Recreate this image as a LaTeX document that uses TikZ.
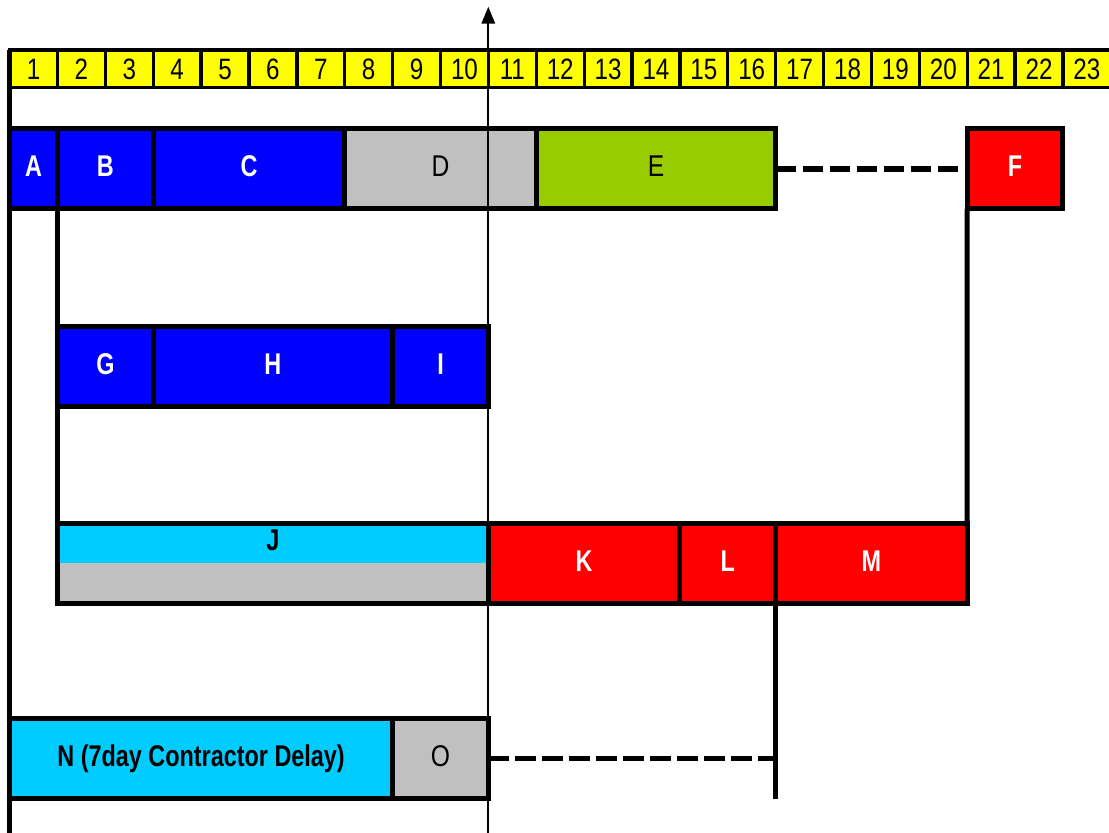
\documentclass[tikz,border=0pt]{standalone}
\usepackage{fontspec}
\setmainfont{Liberation Sans}[FakeStretch=0.82, BoldFeatures={FakeStretch=0.78}]
\usetikzlibrary{arrows.meta}
\definecolor{bblue}{HTML}{0000FF}
\definecolor{bgray}{HTML}{C0C0C0}
\definecolor{bgreen}{HTML}{99CC00}
\definecolor{bred}{HTML}{FF0000}
\definecolor{bcyan}{HTML}{00CCFF}
\definecolor{byellow}{HTML}{FFFF00}
\begin{document}
\begin{tikzpicture}[x=1pt,y=-1pt,
  task/.style={draw=black, line width=5pt, outer sep=0pt, inner sep=0pt,
    minimum height=80pt, anchor=north west,
    font=\fontsize{30}{30}\selectfont\bfseries, text=white,
    text height=20pt, text depth=4pt},
  plain/.style={font=\fontsize{30}{30}\selectfont, text=black},
  darkbold/.style={text=black},
  cell/.style={draw=black, line width=3.3pt, fill=byellow, outer sep=0pt,
    inner sep=0pt, minimum width=47.88pt, minimum height=37.7pt,
    anchor=north west, font=\fontsize{29.5}{29.5}\selectfont,
    text height=24pt, text depth=3.7pt},
  link/.style={draw=black, line width=5pt},
  waitlink/.style={draw=black, line width=5.5pt, dash pattern=on 20.7pt off 6.3pt},
  nowline/.style={draw=black, line width=2pt, -{Triangle[length=17pt,width=13.4pt]}}
]
\useasboundingbox (0,0) rectangle (1109,833);
% ruler
\foreach \k in {1,...,23} {
  \node[cell] (r\k) at ({9.6+47.88*(\k-1)},50) {\k};
}
% row 1
\node[task, fill=bblue, minimum width=47.88pt] (A) at ({9.6+47.88*0},128.8) {A};
\node[task, fill=bblue, minimum width=95.76pt] (B) at ({9.6+47.88*1},128.8) {B};
\node[task, fill=bblue, minimum width=191.52pt] (C) at ({9.6+47.88*3},128.8) {C};
\node[task, fill=bgray, minimum width=191.52pt, plain] (D) at ({9.6+47.88*7},128.8) {D};
\node[task, fill=bgreen, minimum width=239.4pt, plain] (E) at ({9.6+47.88*11},128.8) {E};
\node[task, fill=bred, minimum width=95.76pt] (F) at ({9.6+47.88*20},128.8) {F};
% row 2
\node[task, fill=bblue, minimum width=95.76pt] (G) at ({9.6+47.88*1},326.3) {G};
\node[task, fill=bblue, minimum width=239.4pt] (H) at ({9.6+47.88*3},326.3) {H};
\node[task, fill=bblue, minimum width=95.76pt] (I) at ({9.6+47.88*8},326.3) {I};
% row 3
\node[task, fill=bcyan, minimum width=430.92pt, darkbold, text height=0pt, text depth=26pt,
  path picture={\fill[bgray] (path picture bounding box.west) rectangle (path picture bounding box.south east);}]
  (J) at ({9.6+47.88*1},523) {J};
\node[task, fill=bred, minimum width=191.52pt] (K) at ({9.6+47.88*10},523) {K};
\node[task, fill=bred, minimum width=95.76pt] (L) at ({9.6+47.88*14},523) {L};
\node[task, fill=bred, minimum width=191.52pt] (M) at ({9.6+47.88*16},523) {M};
% row 4
\node[task, fill=bcyan, minimum width=383.04pt, darkbold] (N) at ({9.6+47.88*0},718.3) {N (7day Contractor Delay)};
\node[task, fill=bgray, minimum width=95.76pt, plain] (O) at ({9.6+47.88*8},718.3) {O};
% free ends
\coordinate (leftend) at (r1.north west |- 0,833);
\coordinate (Mdrop) at (M.south west |- 0,799);
\coordinate (nowbase) at (488.3,833);
\coordinate (nowtip) at (488.3,6.7);
% connectors
\draw[link, line width=4.7pt] (r1.north west) -- (leftend);
\draw[link] (B.south west) -- (J.north west);
\draw[link] (F.south west) -- (M.north east);
\draw[link] (M.south west) -- (Mdrop);
\draw[waitlink] (E.east) -- (F.west);
\draw[waitlink] (O.east) -- (O.east -| Mdrop);
\draw[nowline] (nowbase) -- (nowtip);
\end{tikzpicture}
\end{document}
